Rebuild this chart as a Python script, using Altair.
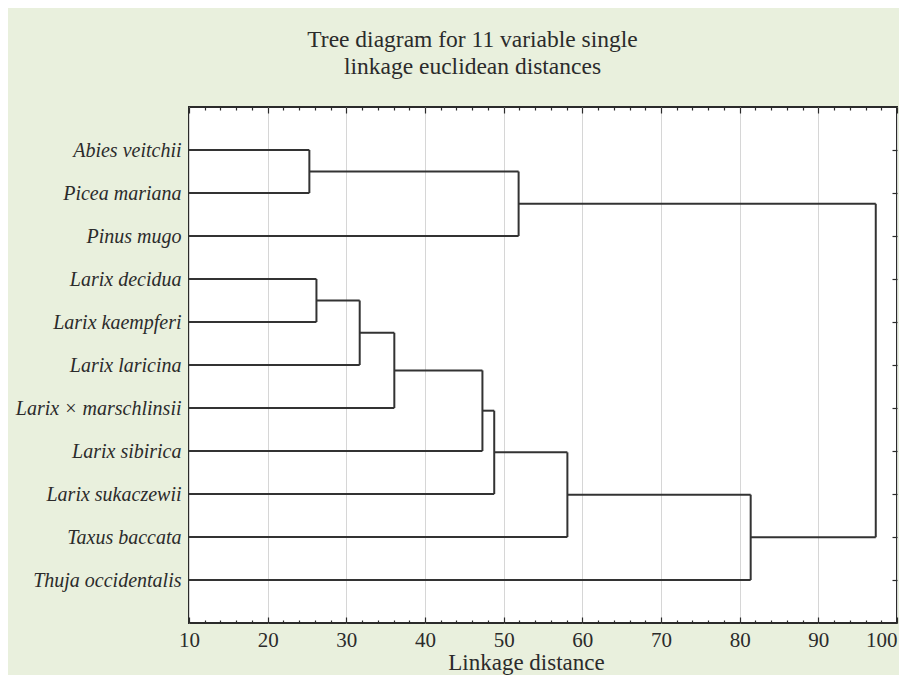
import altair as alt
import pandas as pd

# ---- data ----
leaves = [
    "Abies veitchii", "Picea mariana", "Pinus mugo", "Larix decidua",
    "Larix kaempferi", "Larix laricina", "Larix × marschlinsii",
    "Larix sibirica", "Larix sukaczewii", "Taxus baccata", "Thuja occidentalis",
]
# linkage: node 11+k joins merge_left[k] and merge_right[k] at merge_height[k]
merge_left = [0, 3, 12, 13, 14, 15, 11, 16, 18, 17]
merge_right = [1, 4, 5, 6, 7, 8, 2, 9, 10, 19]
merge_height = [25.3, 26.2, 31.7, 36.1, 47.3, 48.8, 51.9, 58.1, 81.4, 97.3]

x_major = [10, 20, 30, 40, 50, 60, 70, 80, 90, 100]
x_minor = [v for v in range(12, 100, 2) if v % 10 != 0]
leaf_pos = list(range(1, len(leaves) + 1))
title_lines = ["Tree diagram for 11 variable single", "linkage euclidean distances"]
x_title = "Linkage distance"

# ---- build dendrogram segments from the linkage ----
pos = {i: (10.0, float(i + 1)) for i in range(len(leaves))}
rows = []
for k, (l, r, h) in enumerate(zip(merge_left, merge_right, merge_height)):
    (lx, ly), (rx, ry) = pos[l], pos[r]
    rows.append({"x": lx, "x2": h, "y": ly, "y2": ly})
    rows.append({"x": rx, "x2": h, "y": ry, "y2": ry})
    rows.append({"x": h, "x2": h, "y": ly, "y2": ry})
    pos[len(leaves) + k] = (h, (ly + ry) / 2)
seg = pd.DataFrame(rows)

SERIF = "Liberation Serif"
INK = "#2b2b2b"
xscale = alt.Scale(domain=[10, 100], nice=False, zero=False)
yscale = alt.Scale(domain=[0, 12], nice=False, zero=False, reverse=True)

label_expr = "[" + ",".join("'" + n + "'" for n in leaves) + "][datum.value - 1]"

segments = alt.Chart(seg).mark_rule(color="#333333", strokeWidth=2).encode(
    x=alt.X("x:Q", scale=xscale, axis=alt.Axis(
        orient="bottom", values=x_major, grid=True, gridColor="#d6d6d6", gridWidth=1,
        labels=False, ticks=False, domain=False, title=None)),
    x2="x2:Q",
    y=alt.Y("y:Q", scale=yscale, axis=alt.Axis(
        orient="left", values=leaf_pos, labelExpr=label_expr, labelFont=SERIF,
        labelFontStyle="italic", labelFontSize=20, labelColor=INK, labelPadding=8,
        ticks=False, domain=False, grid=False, title=None)),
    y2="y2:Q",
)

def xaxis_layer(values, orient, size, labels, title=None):
    ax = dict(orient=orient, values=values, tickSize=size, offset=-size, tickColor=INK,
              tickWidth=1.2, domain=False, grid=False, labels=labels)
    if labels:
        ax.update(labelFont=SERIF, labelFontSize=21, labelColor=INK, labelPadding=6,
                  labelFlush=False,
                  labelAlign={"condition": {"test": "datum.value >= 100", "value": "right"},
                              "value": "center"},
                  title=title, titleFont=SERIF, titleFontSize=23, titleFontWeight="normal",
                  titleColor=INK, titlePadding=1, titleX=337, titleAlign="center")
    else:
        ax.update(title=None)
    return alt.Chart(pd.DataFrame({"v": values})).mark_point(opacity=0).encode(
        x=alt.X("v:Q", scale=xscale, axis=alt.Axis(**ax)))

bottom_major = xaxis_layer(x_major, "bottom", 6, True, x_title)
bottom_minor = xaxis_layer(x_minor, "bottom", 3, False)
top_major = xaxis_layer(x_major, "top", 6, False)
top_minor = xaxis_layer(x_minor, "top", 3, False)

right_ticks = alt.Chart(pd.DataFrame({"p": leaf_pos})).mark_point(opacity=0).encode(
    y=alt.Y("p:Q", scale=yscale, axis=alt.Axis(
        orient="right", values=leaf_pos, tickSize=5, offset=-5, tickColor=INK,
        tickWidth=1.2, labels=False, domain=False, grid=False, title=None)))

chart = alt.layer(
    segments, bottom_major, bottom_minor, top_major, top_minor, right_ticks
).resolve_axis(x="independent", y="independent").properties(
    width=708,
    height=516,
    padding={"left": 181, "top": 99, "right": 2, "bottom": 52},
    autosize=alt.AutoSizeParams(type="none"),
    background="#e9f0dd",
    title=alt.TitleParams(
        text=title_lines, font=SERIF, fontSize=23.5, fontWeight="normal", color=INK,
        anchor="middle", frame="bounds", offset=28, lineHeight=27, dx=15),
).configure_view(
    fill="white", stroke=INK, strokeWidth=2
)

chart.save("out.html", embed_options={"renderer": "svg", "actions": False})
